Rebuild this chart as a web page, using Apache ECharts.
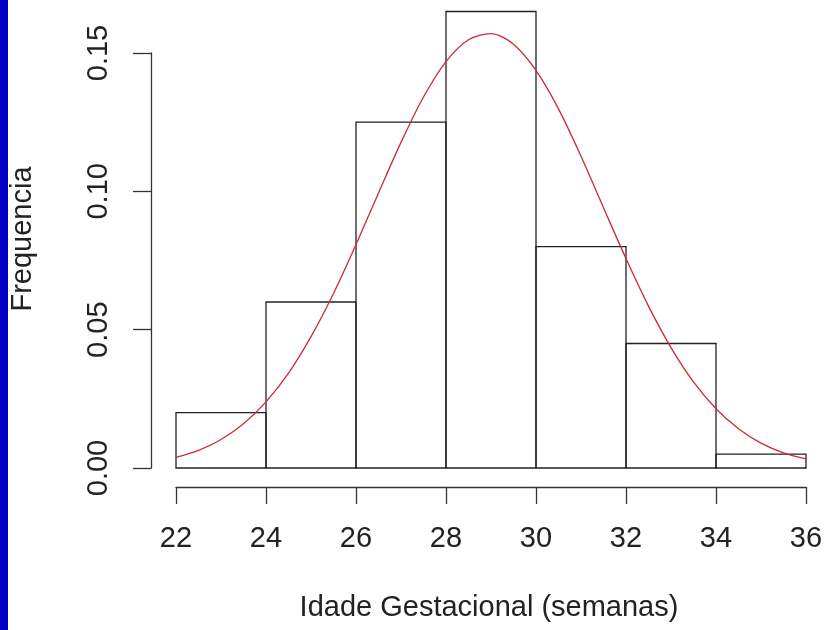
<!DOCTYPE html>
<html>
<head>
<meta charset="utf-8">
<script src="https://cdn.jsdelivr.net/npm/echarts@6/dist/echarts.min.js"></script>
<style>
html,body{margin:0;padding:0;background:#fff;}
#chart{width:825px;height:630px;}
</style>
</head>
<body>
<div id="chart"></div>
<script>
// Histogram bins (weeks) and densities
const binStart = [22, 24, 26, 28, 30, 32, 34];
const binEnd   = [24, 26, 28, 30, 32, 34, 36];
const density  = [0.02, 0.06, 0.125, 0.165, 0.08, 0.045, 0.005];

// Red fitted curve
const curveX = [22, 22.5, 23, 23.5, 24, 24.5, 25, 25.5, 26, 26.5, 27, 27.5, 28, 28.5, 29, 29.5, 30, 30.5, 31, 31.5, 32, 32.5, 33, 33.5, 34, 34.5, 35, 35.5, 36];
const curveY = [0.0038, 0.0064, 0.0103, 0.0160, 0.0239, 0.0343, 0.0475, 0.0631, 0.0808, 0.0994, 0.1177, 0.1341, 0.1469, 0.1548, 0.1570, 0.1532, 0.1437, 0.1298, 0.1127, 0.0941, 0.0757, 0.0585, 0.0435, 0.0311, 0.0214, 0.0142, 0.0090, 0.0055, 0.0033];

// Axis ticks
const xTicks = [22, 24, 26, 28, 30, 32, 34, 36];
const yTicks = [0, 0.05, 0.10, 0.15];

const xTitle = 'Idade Gestacional (semanas)';
const yTitle = 'Frequencia';

const FONT = '"Liberation Sans", Arial, Helvetica, sans-serif';
const AXIS_COLOR = '#333';

const chart = echarts.init(document.getElementById('chart'), null, {renderer: 'canvas'});

const histData = binStart.map((s, i) => [s, binEnd[i], density[i]]);
const curveData = curveX.map((x, i) => [x, curveY[i]]);

chart.setOption({
  backgroundColor: '#ffffff',
  animation: false,
  grid: {
    left: 176, right: 19, top: 53, bottom: 162,
    containLabel: false,
    outerBoundsMode: 'none'
  },
  xAxis: {
    type: 'value',
    min: xTicks[0], max: xTicks[xTicks.length - 1], interval: 2,
    offset: 19,
    axisLine: {show: true, onZero: false, lineStyle: {color: AXIS_COLOR, width: 1.3}},
    axisTick: {show: true, length: 17, lineStyle: {color: AXIS_COLOR, width: 1.3}},
    axisLabel: {
      show: true, margin: 37, color: '#222', fontSize: 29, fontFamily: FONT,
      showMinLabel: true, showMaxLabel: true,
      formatter: v => String(v)
    },
    splitLine: {show: false}
  },
  yAxis: {
    type: 'value',
    min: yTicks[0], max: yTicks[yTicks.length - 1], interval: 0.05,
    offset: 25,
    axisLine: {show: true, onZero: false, lineStyle: {color: AXIS_COLOR, width: 1.3}},
    axisTick: {show: true, length: 18, lineStyle: {color: AXIS_COLOR, width: 1.3}},
    axisLabel: {
      show: true, rotate: 90, margin: 38, color: '#222', fontSize: 29, fontFamily: FONT,
      showMinLabel: true, showMaxLabel: true,
      formatter: v => v.toFixed(2)
    },
    splitLine: {show: false}
  },
  series: [
    {
      type: 'custom',
      clip: false,
      data: histData,
      encode: {x: [0, 1], y: 2},
      renderItem: function (params, api) {
        const p0 = api.coord([api.value(0), api.value(2)]);
        const p1 = api.coord([api.value(1), 0]);
        return {
          type: 'rect',
          shape: {x: p0[0], y: p0[1], width: p1[0] - p0[0], height: p1[1] - p0[1]},
          style: {fill: 'none', stroke: '#222', lineWidth: 1.3}
        };
      },
      z: 2
    },
    {
      type: 'line',
      clip: false,
      data: curveData,
      smooth: 0.3,
      showSymbol: false,
      symbol: 'none',
      lineStyle: {color: '#cc2a36', width: 1.3},
      z: 3
    }
  ],
  graphic: [
    {
      type: 'rect', left: 0, top: 0,
      shape: {x: 0, y: 0, width: 8, height: 630},
      style: {fill: '#0000c4'}, silent: true
    },
    {
      type: 'text', x: 23, y: 239, rotation: Math.PI / 2,
      style: {text: yTitle, font: '29px ' + FONT, fill: '#222', align: 'center', verticalAlign: 'middle'}
    },
    {
      type: 'text', x: 489, y: 608,
      style: {text: xTitle, font: '29px ' + FONT, fill: '#222', align: 'center', verticalAlign: 'middle'}
    }
  ]
});
</script>
</body>
</html>
